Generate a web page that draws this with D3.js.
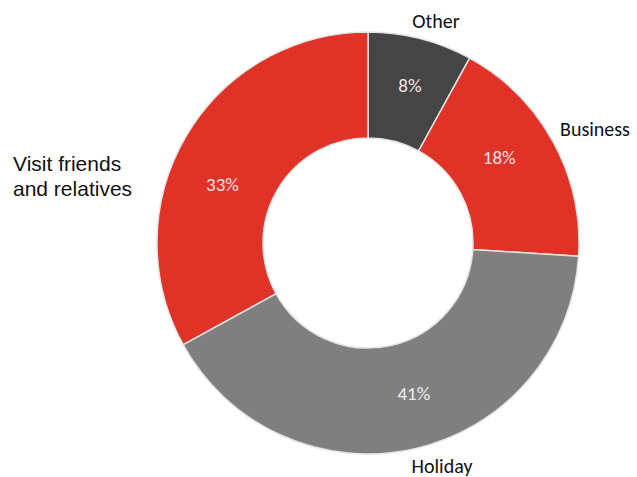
<!DOCTYPE html>
<html><head><meta charset="utf-8">
<script src="https://cdn.jsdelivr.net/npm/d3@7"></script>
<style>body{margin:0;background:#fff}svg{display:block}</style>
</head><body>
<svg id="c" width="637" height="477"></svg>
<script>
const categories = ["Other", "Business", "Holiday", "Visit friends and relatives"];
const values = [8, 18, 41, 33];
const valueLabels = ["8%", "18%", "41%", "33%"];
const colors = ["#454545", "#E03226", "#7F7F7F", "#E03226"];

const W = 637, H = 477, cx = 368, cy = 243, rOuter = 211, rInner = 105;
const svg = d3.select("#c");
const g = svg.append("g").attr("transform", `translate(${cx},${cy})`);

const pie = d3.pie().sort(null).value(d => d);
const arcs = pie(values);
const arc = d3.arc().innerRadius(rInner).outerRadius(rOuter);

g.selectAll("path").data(arcs).enter().append("path")
  .attr("d", arc)
  .attr("fill", (d, i) => colors[i])
  .attr("stroke", "#e4e4e4")
  .attr("stroke-width", 1.5);

// percentage labels: Excel-style placement (angle tweaks in degrees, radius)
const labelAdj = [{da: 0.5, r: 163}, {da: -4.5, r: 157}, {da: -4.4, r: 157}, {da: -8.6, r: 157}];
g.selectAll("text.pct").data(arcs).enter().append("text")
  .attr("class", "pct")
  .attr("x", (d, i) => {
    const a = (d.startAngle + d.endAngle) / 2 + labelAdj[i].da * Math.PI / 180;
    return labelAdj[i].r * Math.sin(a);
  })
  .attr("y", (d, i) => {
    const a = (d.startAngle + d.endAngle) / 2 + labelAdj[i].da * Math.PI / 180;
    return -labelAdj[i].r * Math.cos(a);
  })
  .attr("dy", "0.36em")
  .attr("text-anchor", "middle")
  .attr("font-family", "Carlito, Calibri, Lato, sans-serif")
  .attr("font-size", 19)
  .attr("fill", (d, i) => i === 2 ? "#ececec" : "#f7e4e2")
  .text((d, i) => valueLabels[i]);

// category labels
const calib = "Carlito, Calibri, Lato, sans-serif";
const catPos = [
  {x: 436, y: 28, anchor: "middle", lines: [categories[0]], font: calib, size: 20},
  {x: 560, y: 136, anchor: "start", lines: [categories[1]], font: calib, size: 20},
  {x: 442, y: 473, anchor: "middle", lines: [categories[2]], font: calib, size: 20},
  {x: 13, y: 171, anchor: "start", lines: ["Visit friends", "and relatives"], font: "'Liberation Sans', Arial, sans-serif", size: 21}
];
catPos.forEach(p => {
  const t = svg.append("text")
    .attr("x", p.x).attr("y", p.y)
    .attr("text-anchor", p.anchor)
    .attr("font-family", p.font)
    .attr("font-size", p.size)
    .attr("fill", "#111");
  p.lines.forEach((ln, j) => {
    t.append("tspan").attr("x", p.x).attr("dy", j === 0 ? 0 : 25).text(ln);
  });
});
</script>
</body></html>
